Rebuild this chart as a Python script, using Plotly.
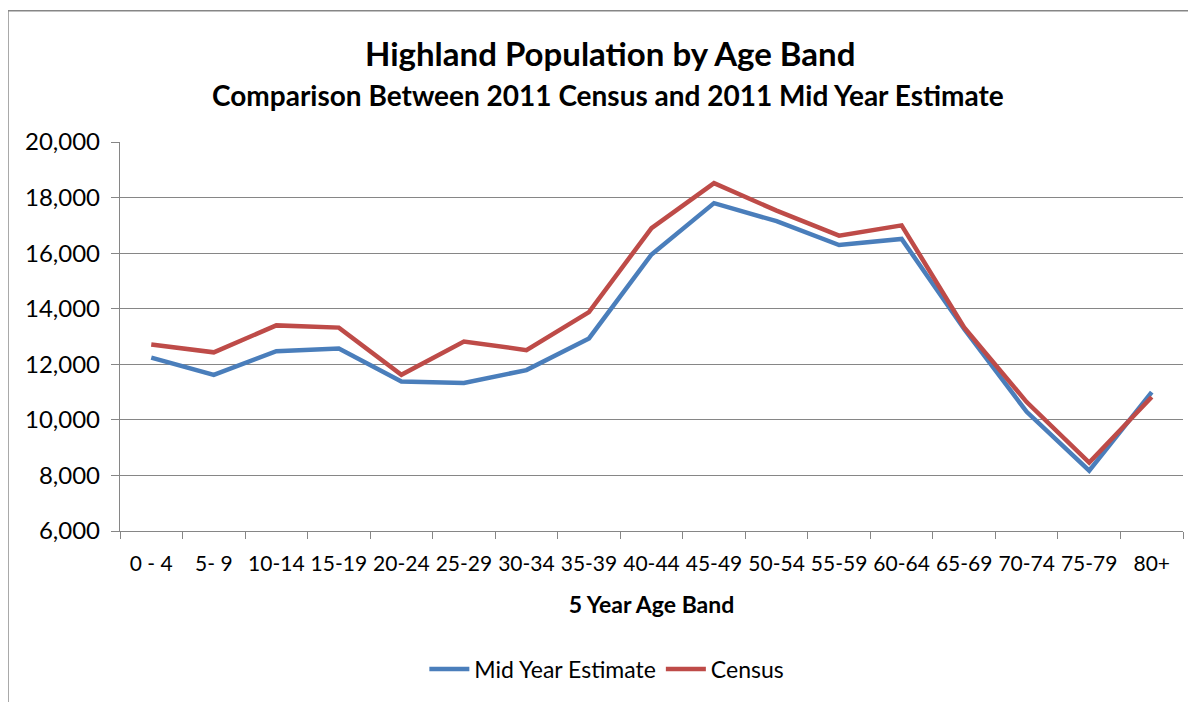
import plotly.graph_objects as go

age_bands = ["0 - 4", "5- 9", "10-14", "15-19", "20-24", "25-29", "30-34", "35-39",
             "40-44", "45-49", "50-54", "55-59", "60-64", "65-69", "70-74", "75-79", "80+"]
mid_year_estimate = [12240, 11620, 12470, 12570, 11380, 11330, 11790, 12930,
                     15950, 17800, 17150, 16290, 16510, 13270, 10290, 8170, 11000]
census = [12710, 12430, 13400, 13320, 11620, 12820, 12510, 13880,
          16900, 18520, 17530, 16630, 17000, 13330, 10640, 8460, 10820]
y_ticks = [6000, 8000, 10000, 12000, 14000, 16000, 18000, 20000]

FONT = "Lato"
GRID = "#868686"

fig = go.Figure()
fig.add_trace(go.Scatter(x=age_bands, y=mid_year_estimate, mode="lines",
                         name="Mid Year Estimate",
                         line=dict(color="#4A7EBB", width=4.5)))
fig.add_trace(go.Scatter(x=age_bands, y=census, mode="lines",
                         name="Census",
                         line=dict(color="#BE4B48", width=4.5)))

fig.update_layout(
    width=1188, height=694,
    margin=dict(l=112, r=13, t=134, b=169),
    paper_bgcolor="white", plot_bgcolor="white",
    font=dict(family=FONT, size=21, color="black"),
    showlegend=True,
    legend=dict(orientation="h", x=0.458, xanchor="center", y=-0.355, yanchor="middle",
                font=dict(family=FONT, size=23, color="black"),
                itemwidth=40, traceorder="normal"),
    annotations=[
        dict(text="<b>Highland Population by Age Band</b>", xref="paper", yref="paper",
             x=0.461, y=1.230, xanchor="center", yanchor="middle", showarrow=False,
             font=dict(family=FONT, size=33, color="black")),
        dict(text="<b>Comparison Between 2011 Census and 2011 Mid Year Estimate</b>",
             xref="paper", yref="paper", x=0.459, y=1.122, xanchor="center",
             yanchor="middle", showarrow=False,
             font=dict(family=FONT, size=28, color="black")),
    ],
    shapes=[
        dict(type="rect", xref="paper", yref="paper", x0=-0.1054, y0=-0.6,
             x1=1.05, y1=1.3376, line=dict(color=GRID, width=1.5),
             fillcolor="rgba(0,0,0,0)", layer="below"),
    ],
)

fig.update_xaxes(
    type="category", tickson="boundaries", ticks="outside", ticklen=7,
    tickcolor=GRID, tickwidth=1.3, showline=True, linecolor=GRID, linewidth=1.3,
    showgrid=False, tickangle=0, ticklabelstandoff=14,
    tickfont=dict(family=FONT, size=21, color="black"),
    title=dict(text="<b>5 Year Age Band</b>", font=dict(family=FONT, size=23, color="black"),
               standoff=22),
    range=[-0.5, 16.5],
)
fig.update_yaxes(
    range=[6000, 20000], tickvals=y_ticks, tickformat=",", ticks="outside", ticklen=8,
    tickcolor=GRID, tickwidth=1.3, showline=True, linecolor=GRID, linewidth=1.3,
    showgrid=True, gridcolor=GRID, gridwidth=1.3, zeroline=False,
    ticklabelstandoff=6,
    tickfont=dict(family=FONT, size=24, color="black"),
)

fig.write_html("out.html")
